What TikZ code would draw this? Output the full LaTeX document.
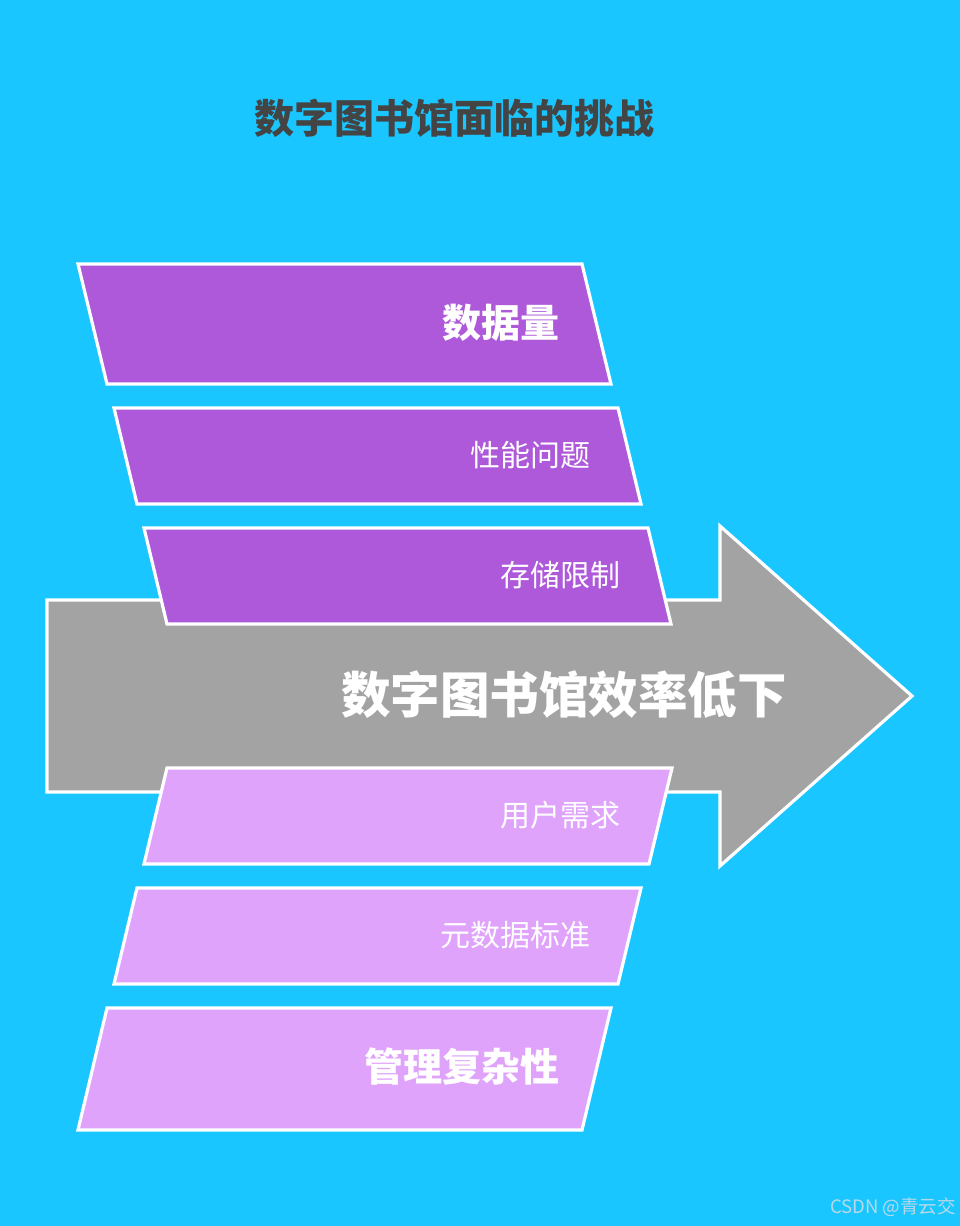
\documentclass[tikz,border=0pt]{standalone}
\usepackage{fontspec}
\newfontfamily\cjk{Noto Sans CJK SC}
\definecolor{bg}{HTML}{1AC6FF}
\definecolor{dpurple}{HTML}{AE59D9}
\definecolor{lpurple}{HTML}{E0A3FC}
\definecolor{arrowgray}{HTML}{A3A3A3}
\definecolor{titlegray}{HTML}{444444}
\definecolor{wm}{HTML}{B8D8E8}
\begin{document}
\begin{tikzpicture}[x=1pt,y=-1pt,
  shapeline/.style={draw=white,line width=3.2pt,line join=miter},
  dark/.style={shapeline,fill=dpurple},
  light/.style={shapeline,fill=lpurple},
  lbl/.style={anchor=east,inner sep=0pt,text=white,font=\cjk\fontsize{30}{36}\selectfont},
  blbl/.style={anchor=east,inner sep=0pt,text=white,font=\cjk\bfseries\fontsize{39}{46}\selectfont}]
\fill[bg] (0,0) rectangle (960,1226);
\useasboundingbox (0,0) rectangle (960,1226);
% title
\node[inner sep=0pt,text=titlegray,font=\cjk\bfseries\fontsize{40}{48}\selectfont] (title) at (454,118) {数字图书馆面临的挑战};
% big arrow
\draw[shapeline,fill=arrowgray] (47,600) -- (720,600) -- (720,526) -- (912,696) -- (720,866) -- (720,792) -- (47,792) -- cycle;
\node[anchor=east,inner sep=0pt,text=white,font=\cjk\bfseries\fontsize{49.5}{58}\selectfont] (main) at (787,695) {数字图书馆效率低下};
% top parallelograms
\draw[dark] (78,264) -- (582,264) -- (611,384) -- (107,384) -- cycle;
\node[blbl] (t1) at (560,323) {数据量};
\draw[dark] (114,408) -- (618,408) -- (641,504) -- (137,504) -- cycle;
\node[lbl] (t2) at (591,455) {性能问题};
\draw[dark] (144,528) -- (648,528) -- (671,624) -- (167,624) -- cycle;
\node[lbl] (t3) at (621,575) {存储限制};
% bottom parallelograms
\draw[light] (167,768) -- (672,768) -- (649,864) -- (144,864) -- cycle;
\node[lbl] (b1) at (621,815) {用户需求};
\draw[light] (137,888) -- (641,888) -- (618,984) -- (114,984) -- cycle;
\node[lbl] (b2) at (591,935) {元数据标准};
\draw[light] (107,1008) -- (611,1008) -- (582,1130) -- (78,1130) -- cycle;
\node[blbl] (b3) at (560,1067) {管理复杂性};
% watermark
\node[anchor=east,inner sep=0pt,text=wm,font=\cjk\fontsize{18.5}{22}\selectfont] (wm) at (956,1207) {CSDN @青云交};
\end{tikzpicture}
\end{document}
